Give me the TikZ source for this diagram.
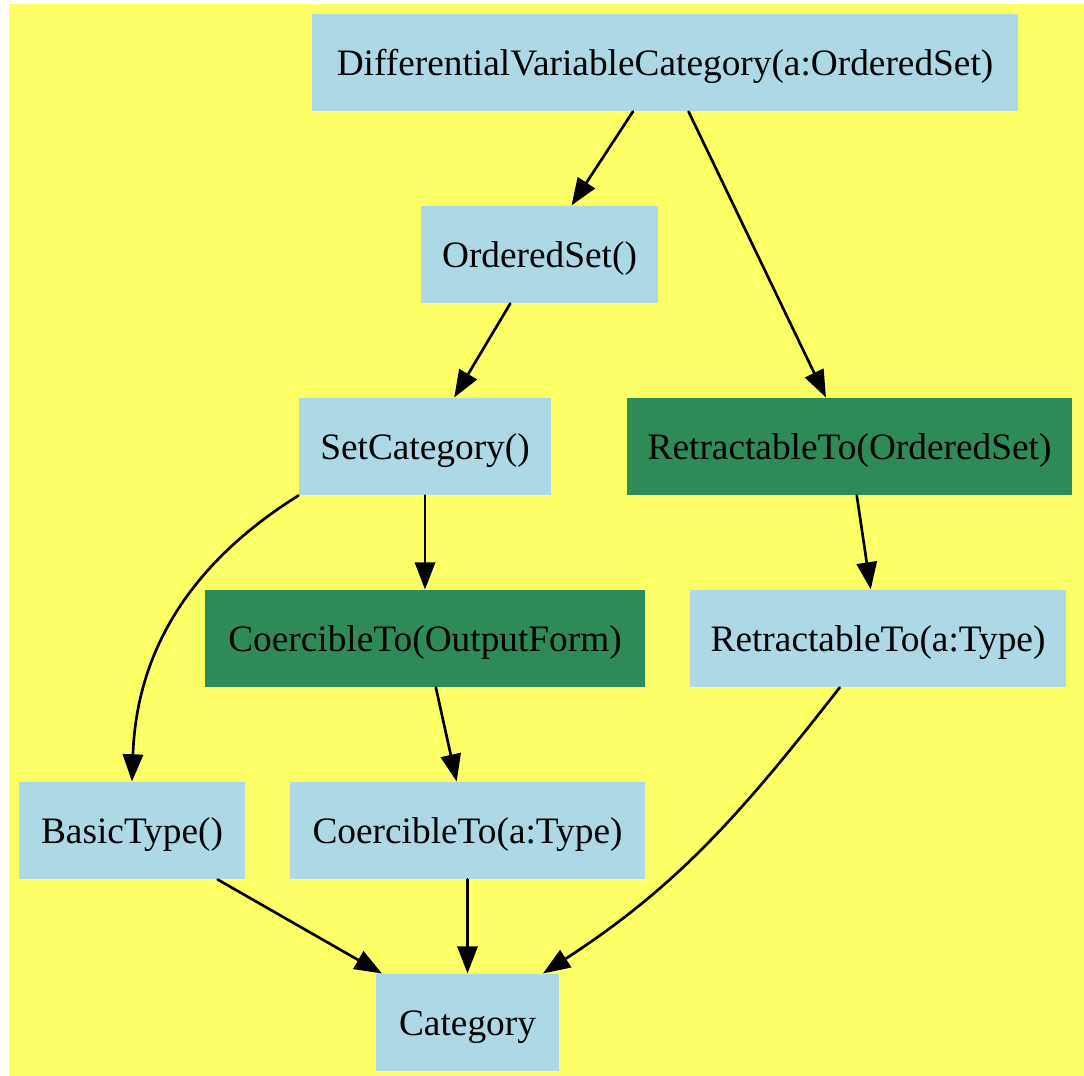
\documentclass[tikz,border=0pt]{standalone}
\usepackage{fontspec}
\setmainfont{Liberation Serif}
\usetikzlibrary{arrows.meta}
\definecolor{bgyellow}{RGB}{255,255,102}
\definecolor{boxblue}{RGB}{173,216,230}
\definecolor{boxgreen}{RGB}{46,139,87}
\begin{document}
\begin{tikzpicture}[x=0.375pt, y=-0.375pt, line cap=round,
    box/.style={fill=boxblue, inner sep=0pt, minimum height=36.375pt,
      text height=9.6pt, text depth=0pt, font=\fontsize{14}{17}\selectfont},
    greenbox/.style={box, fill=boxgreen},
    edge/.style={line width=1pt, -{Triangle[length=10.2pt,width=7.6pt]}}]
        % ---- canvas ----
        \useasboundingbox (0,0) rectangle (1084,1076);
        \fill[bgyellow] (9,4) rectangle (1084,1076);

        % ---- categories ----
        \node[box, minimum width=264.75pt] (dvc) at (665,62.5) {DifferentialVariableCategory(a:OrderedSet)};
        \node[box, minimum width=88.875pt] (ordset) at (539.5,254.5) {OrderedSet()};
        \node[box, minimum width=94.5pt] (setcat) at (425,446.5) {SetCategory()};
        \node[greenbox, minimum width=166.875pt] (retos) at (849.5,446.5) {RetractableTo(OrderedSet)};
        \node[greenbox, minimum width=165pt] (coerof) at (425,638.5) {CoercibleTo(OutputForm)};
        \node[box, minimum width=141pt] (rettype) at (878,638.5) {RetractableTo(a:Type)};
        \node[box, minimum width=84.75pt] (basic) at (132,830.5) {BasicType()};
        \node[box, minimum width=133.125pt] (coertype) at (467.5,830.5) {CoercibleTo(a:Type)};
        \node[box, minimum width=68.625pt] (cat) at (467.5,1022.5) {Category};

        % ---- inheritance edges ----
        \draw[edge] (dvc) -- (ordset);
        \draw[edge] (dvc) -- (retos);
        \draw[edge] (ordset) -- (setcat);
        \draw[edge] (setcat) -- (coerof);
        \draw[edge] (setcat.south west) to[out=-148, in=88] (basic.north);
        \draw[edge] (retos) -- (rettype);
        \draw[edge] (coerof) -- (coertype);
        \draw[edge] (rettype) to[out=-128, in=33] (cat);
        \draw[edge] (basic) -- (cat);
        \draw[edge] (coertype) -- (cat);
    \end{tikzpicture}
\end{document}
